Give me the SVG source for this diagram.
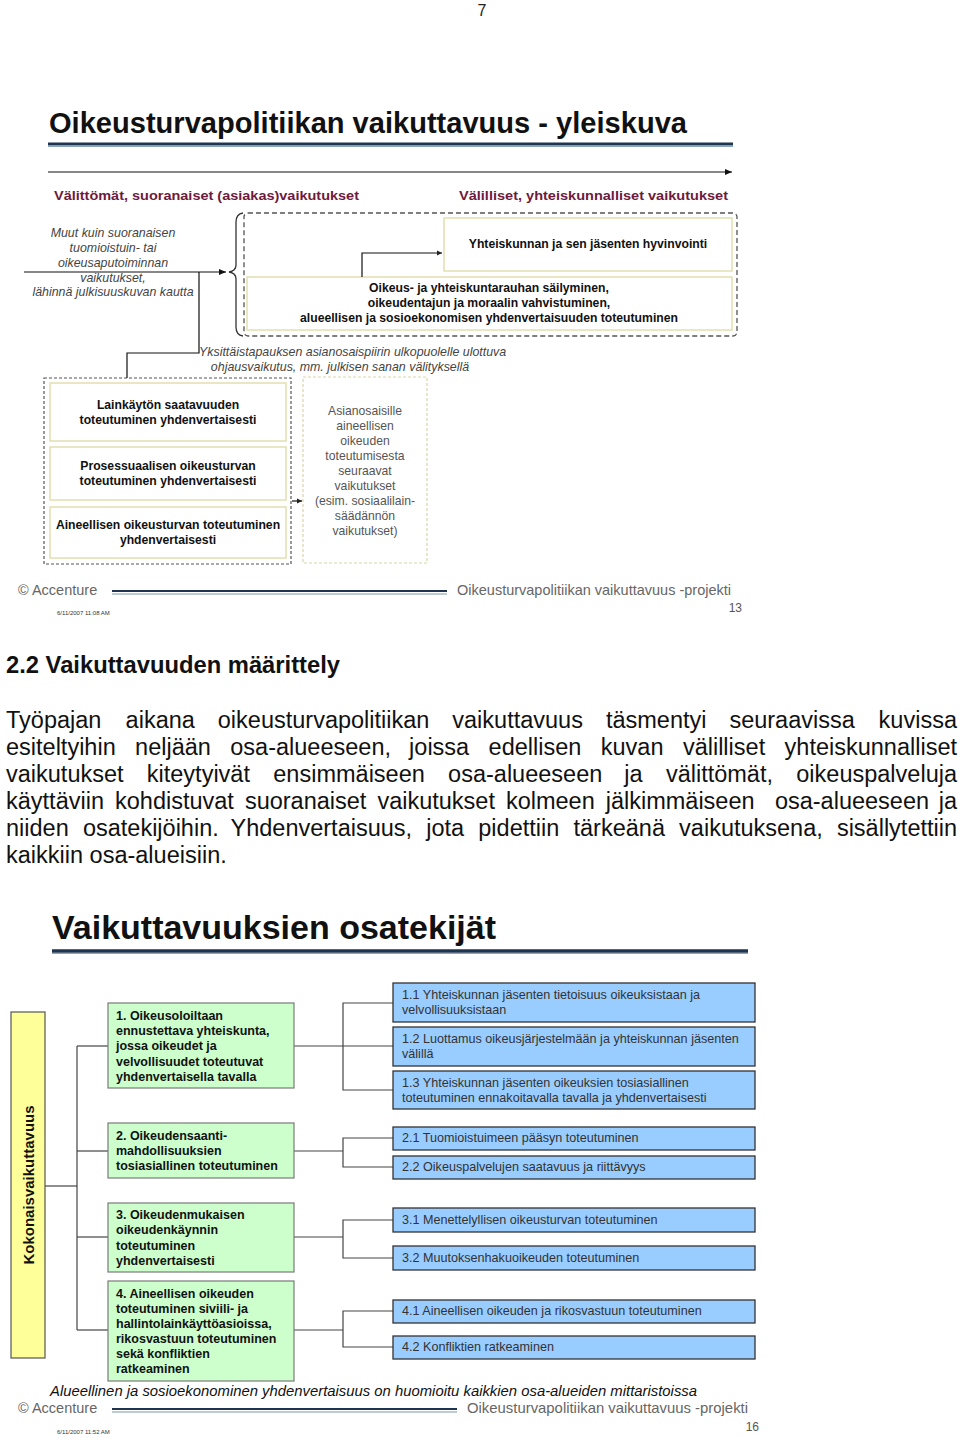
<svg xmlns="http://www.w3.org/2000/svg" width="960" height="1438" viewBox="0 0 960 1438">
<defs>
<marker id="ah" markerWidth="8" markerHeight="8" refX="7" refY="4" orient="auto" markerUnits="userSpaceOnUse"><path d="M0,1 L7,4 L0,7 Z" fill="#111"/></marker>
<marker id="ahs" markerWidth="6" markerHeight="6" refX="5" refY="3" orient="auto" markerUnits="userSpaceOnUse"><path d="M0,0.5 L5,3 L0,5.5 Z" fill="#222"/></marker>
<style>
text{font-family:"Liberation Sans",Arial,sans-serif}
.ybox{fill:#fff;stroke:#e2e0b0;stroke-width:1.5}
.bt{font-size:12.2px;font-weight:bold;fill:#111;text-anchor:middle}
.it{font-size:12.4px;font-style:italic;fill:#444}
.gray{font-size:12.2px;fill:#555;text-anchor:middle}
.mar{font-size:13.5px;font-weight:bold;fill:#6e1a3c}
.foot{font-size:14.5px;fill:#666}
.date{font-size:6px;fill:#333}
.p{font-size:23.5px;fill:#111}
.green{fill:#ccffcc;stroke:#7a7a7a;stroke-width:1.2}
.gt{font-size:12.5px;font-weight:bold;fill:#111}
.blue{fill:#99ccff;stroke:#333;stroke-width:1.3}
.blt{font-size:12.6px;fill:#333}
.ln{fill:none;stroke:#111;stroke-width:1.2}
.ln2{fill:none;stroke:#444;stroke-width:1.2}
</style>
</defs>
<rect width="960" height="1438" fill="#fff"/>
<text x="482" y="16" font-size="16" fill="#222" text-anchor="middle" font-family="Liberation Serif">7</text>

<!-- Slide 1 -->
<g id="slide1-title">
<text x="49" y="133" font-size="29" font-weight="bold" fill="#111" textLength="638" lengthAdjust="spacingAndGlyphs">Oikeusturvapolitiikan vaikuttavuus - yleiskuva</text>
<line x1="48" y1="144" x2="733" y2="144" stroke="#1e3550" stroke-width="3"/>
<line x1="48" y1="146.5" x2="733" y2="146.5" stroke="#8aa4bc" stroke-width="1"/>
</g>
<g id="heading-direct"><text class="mar" x="54" y="200" textLength="305" lengthAdjust="spacingAndGlyphs">Välittömät, suoranaiset (asiakas)vaikutukset</text></g>
<g id="heading-indirect"><text class="mar" x="459" y="200" textLength="269" lengthAdjust="spacingAndGlyphs">Välilliset, yhteiskunnalliset vaikutukset</text></g>

<g id="indirect-group">
<rect x="244" y="213" width="493" height="123" rx="4" fill="none" stroke="#555" stroke-width="1.3" stroke-dasharray="5,3"/>
<path d="M243,213 Q236,214 236,222 L236,265 Q236,271 229,272 Q236,273 236,279 L236,327 Q236,335 243,336" fill="none" stroke="#333" stroke-width="1.3"/>
</g>
<g id="node-welfare">
<rect class="ybox" x="444" y="218" width="288" height="53"/>
<text class="bt" x="588" y="248">Yhteiskunnan ja sen jäsenten hyvinvointi</text>
</g>
<g id="node-peace">
<rect class="ybox" x="247" y="277" width="485" height="53"/>
<text class="bt" x="489" y="292">Oikeus- ja yhteiskuntarauhan säilyminen,</text>
<text class="bt" x="489" y="307">oikeudentajun ja moraalin vahvistuminen,</text>
<text class="bt" x="489" y="322">alueellisen ja sosioekonomisen yhdenvertaisuuden toteutuminen</text>
</g>
<g id="label-other">
<text class="it" x="113" y="237" text-anchor="middle">Muut kuin suoranaisen</text>
<text class="it" x="113" y="252" text-anchor="middle">tuomioistuin- tai</text>
<text class="it" x="113" y="267" text-anchor="middle">oikeusaputoiminnan</text>
<text class="it" x="113" y="282" text-anchor="middle">vaikutukset,</text>
<text class="it" x="113" y="296" text-anchor="middle">lähinnä julkisuuskuvan kautta</text>
</g>
<g id="label-individual">
<text class="it" x="199" y="356">Yksittäistapauksen asianosaispiirin ulkopuolelle ulottuva</text>
<text class="it" x="340" y="371" text-anchor="middle">ohjausvaikutus, mm. julkisen sanan välityksellä</text>
</g>

<g id="direct-group">
<rect x="44" y="378" width="247" height="186" fill="none" stroke="#555" stroke-width="1.2" stroke-dasharray="3,2"/>
</g>
<g id="node-access">
<rect class="ybox" x="50" y="383" width="236" height="58"/>
<text class="bt" x="168" y="409">Lainkäytön saatavuuden</text>
<text class="bt" x="168" y="424">toteutuminen yhdenvertaisesti</text>
</g>
<g id="node-procedural">
<rect class="ybox" x="50" y="447" width="236" height="53"/>
<text class="bt" x="168" y="470">Prosessuaalisen oikeusturvan</text>
<text class="bt" x="168" y="485">toteutuminen yhdenvertaisesti</text>
</g>
<g id="node-material">
<rect class="ybox" x="50" y="507" width="236" height="51"/>
<text class="bt" x="168" y="529">Aineellisen oikeusturvan toteutuminen</text>
<text class="bt" x="168" y="544">yhdenvertaisesti</text>
</g>
<g id="node-consequences">
<rect x="303" y="377" width="124" height="186" fill="#fff" stroke="#d8d6a8" stroke-width="1.2" stroke-dasharray="3,2"/>
<text class="gray" x="365" y="415">Asianosaisille</text>
<text class="gray" x="365" y="430">aineellisen</text>
<text class="gray" x="365" y="445">oikeuden</text>
<text class="gray" x="365" y="460">toteutumisesta</text>
<text class="gray" x="365" y="475">seuraavat</text>
<text class="gray" x="365" y="490">vaikutukset</text>
<text class="gray" x="365" y="505">(esim. sosiaalilain-</text>
<text class="gray" x="365" y="520">säädännön</text>
<text class="gray" x="365" y="535">vaikutukset)</text>
</g>

<g id="connectors-slide1">
<line x1="48" y1="172" x2="732" y2="172" class="ln" marker-end="url(#ah)"/>
<line x1="24" y1="272" x2="226" y2="272" class="ln" marker-end="url(#ah)"/>
<polyline points="199,272 199,353 127,353 127,378" class="ln"/>
<polyline points="362,277 362,253 442,253" class="ln" marker-end="url(#ahs)"/>
<line x1="292" y1="501" x2="302" y2="501" class="ln" marker-end="url(#ahs)"/>
</g>

<g id="footer1">
<text class="foot" x="18" y="595">© Accenture</text>
<line x1="112" y1="591" x2="447" y2="591" stroke="#1e3550" stroke-width="2"/>
<line x1="112" y1="594" x2="447" y2="594" stroke="#7d97ae" stroke-width="1"/>
<text class="foot" x="457" y="595" textLength="274" lengthAdjust="spacingAndGlyphs">Oikeusturvapolitiikan vaikuttavuus -projekti</text>
<text x="742" y="612" font-size="12" fill="#555" text-anchor="end">13</text>
<text class="date" x="57" y="615">6/11/2007 11:08 AM</text>
</g>

<!-- Body text -->
<text x="6" y="673" font-size="23.5" font-weight="bold" fill="#111" textLength="334" lengthAdjust="spacingAndGlyphs">2.2 Vaikuttavuuden määrittely</text>
<g class="para">
<text class="p" y="728"><tspan x="6">Työpajan</tspan><tspan x="125.6">aikana</tspan><tspan x="217.8">oikeusturvapolitiikan</tspan><tspan x="452.3">vaikuttavuus</tspan><tspan x="605.9">täsmentyi</tspan><tspan x="729.4">seuraavissa</tspan><tspan x="878.6">kuvissa</tspan></text>
<text class="p" y="755"><tspan x="6">esiteltyihin</tspan><tspan x="135.1">neljään</tspan><tspan x="230.3">osa-alueeseen,</tspan><tspan x="409.1">joissa</tspan><tspan x="488.6">edellisen</tspan><tspan x="600.8">kuvan</tspan><tspan x="682.9">välilliset</tspan><tspan x="784.6">yhteiskunnalliset</tspan></text>
<text class="p" y="782"><tspan x="6">vaikutukset</tspan><tspan x="146.8">kiteytyivät</tspan><tspan x="273.3">ensimmäiseen</tspan><tspan x="448.1">osa-alueeseen</tspan><tspan x="624.3">ja</tspan><tspan x="665.9">välittömät,</tspan><tspan x="796.3">oikeuspalveluja</tspan></text>
<text class="p" y="809"><tspan x="6">käyttäviin</tspan><tspan x="115">kohdistuvat</tspan><tspan x="244.9">suoranaiset</tspan><tspan x="377.4">vaikutukset</tspan><tspan x="505.9">kolmeen</tspan><tspan x="605.7">jälkimmäiseen</tspan><tspan x="774.9">osa-alueeseen</tspan><tspan x="938.8">ja</tspan></text>
<text class="p" y="836"><tspan x="6">niiden</tspan><tspan x="82.9">osatekijöihin.</tspan><tspan x="230.5">Yhdenvertaisuus,</tspan><tspan x="426.3">jota</tspan><tspan x="478.3">pidettiin</tspan><tspan x="573.5">tärkeänä</tspan><tspan x="679.1">vaikutuksena,</tspan><tspan x="836.9">sisällytettiin</tspan></text>
<text class="p" x="6" y="863">kaikkiin osa-alueisiin.</text>
</g>

<!-- Slide 2 -->
<g id="slide2-title">
<text x="52" y="939" font-size="33" font-weight="bold" fill="#111" textLength="444" lengthAdjust="spacingAndGlyphs">Vaikuttavuuksien osatekijät</text>
<line x1="52" y1="951" x2="748" y2="951" stroke="#1e3550" stroke-width="3.5"/>
<line x1="52" y1="953.5" x2="748" y2="953.5" stroke="#8aa4bc" stroke-width="1"/>
</g>

<g id="connectors-slide2">
<line x1="45" y1="1186" x2="77" y2="1186" class="ln2"/>
<line x1="77" y1="1046" x2="77" y2="1330" class="ln2"/>
<line x1="77" y1="1046" x2="108" y2="1046" class="ln2"/>
<line x1="77" y1="1151" x2="108" y2="1151" class="ln2"/>
<line x1="77" y1="1237" x2="108" y2="1237" class="ln2"/>
<line x1="77" y1="1330" x2="108" y2="1330" class="ln2"/>
<line x1="294" y1="1046" x2="393" y2="1046" class="ln2"/>
<polyline points="393,1003 343,1003 343,1090 393,1090" class="ln2"/>
<line x1="294" y1="1151" x2="343" y2="1151" class="ln2"/>
<polyline points="393,1138 343,1138 343,1167 393,1167" class="ln2"/>
<line x1="294" y1="1237" x2="343" y2="1237" class="ln2"/>
<polyline points="393,1220 343,1220 343,1258 393,1258" class="ln2"/>
<line x1="294" y1="1330" x2="343" y2="1330" class="ln2"/>
<polyline points="393,1311 343,1311 343,1347 393,1347" class="ln2"/>
</g>

<g id="node-total">
<rect x="11" y="1012" width="34" height="346" fill="#ffff99" stroke="#555" stroke-width="1.2"/>
<text x="0" y="0" transform="translate(34,1185) rotate(-90)" font-size="15" font-weight="bold" fill="#111" text-anchor="middle">Kokonaisvaikuttavuus</text>
</g>

<g id="node-g1">
<rect class="green" x="108" y="1003" width="186" height="85"/>
<text class="gt" x="116" y="1020">1. Oikeusoloiltaan</text>
<text class="gt" x="116" y="1035">ennustettava yhteiskunta,</text>
<text class="gt" x="116" y="1050">jossa oikeudet ja</text>
<text class="gt" x="116" y="1066">velvollisuudet toteutuvat</text>
<text class="gt" x="116" y="1081">yhdenvertaisella tavalla</text>
</g>
<g id="node-g2">
<rect class="green" x="108" y="1123" width="186" height="55"/>
<text class="gt" x="116" y="1140">2. Oikeudensaanti-</text>
<text class="gt" x="116" y="1155">mahdollisuuksien</text>
<text class="gt" x="116" y="1170">tosiasiallinen toteutuminen</text>
</g>
<g id="node-g3">
<rect class="green" x="108" y="1203" width="186" height="69"/>
<text class="gt" x="116" y="1219">3. Oikeudenmukaisen</text>
<text class="gt" x="116" y="1234">oikeudenkäynnin</text>
<text class="gt" x="116" y="1250">toteutuminen</text>
<text class="gt" x="116" y="1265">yhdenvertaisesti</text>
</g>
<g id="node-g4">
<rect class="green" x="108" y="1281" width="186" height="100"/>
<text class="gt" x="116" y="1298">4. Aineellisen oikeuden</text>
<text class="gt" x="116" y="1313">toteutuminen siviili- ja</text>
<text class="gt" x="116" y="1328">hallintolainkäyttöasioissa,</text>
<text class="gt" x="116" y="1343">rikosvastuun toteutuminen</text>
<text class="gt" x="116" y="1358">sekä konfliktien</text>
<text class="gt" x="116" y="1373">ratkeaminen</text>
</g>

<g id="node-b11"><rect class="blue" x="393" y="983" width="362" height="39"/>
<text class="blt" x="402" y="999">1.1 Yhteiskunnan jäsenten tietoisuus oikeuksistaan ja</text>
<text class="blt" x="402" y="1014">velvollisuuksistaan</text></g>
<g id="node-b12"><rect class="blue" x="393" y="1027" width="362" height="39"/>
<text class="blt" x="402" y="1043">1.2 Luottamus oikeusjärjestelmään ja yhteiskunnan jäsenten</text>
<text class="blt" x="402" y="1058">välillä</text></g>
<g id="node-b13"><rect class="blue" x="393" y="1071" width="362" height="38"/>
<text class="blt" x="402" y="1087">1.3 Yhteiskunnan jäsenten oikeuksien tosiasiallinen</text>
<text class="blt" x="402" y="1102">toteutuminen ennakoitavalla tavalla ja yhdenvertaisesti</text></g>
<g id="node-b21"><rect class="blue" x="393" y="1127" width="362" height="23"/>
<text class="blt" x="402" y="1142">2.1 Tuomioistuimeen pääsyn toteutuminen</text></g>
<g id="node-b22"><rect class="blue" x="393" y="1156" width="362" height="23"/>
<text class="blt" x="402" y="1171">2.2 Oikeuspalvelujen saatavuus ja riittävyys</text></g>
<g id="node-b31"><rect class="blue" x="393" y="1208" width="362" height="24"/>
<text class="blt" x="402" y="1224">3.1 Menettelyllisen oikeusturvan toteutuminen</text></g>
<g id="node-b32"><rect class="blue" x="393" y="1246" width="362" height="24"/>
<text class="blt" x="402" y="1262">3.2 Muutoksenhakuoikeuden toteutuminen</text></g>
<g id="node-b41"><rect class="blue" x="393" y="1300" width="362" height="23"/>
<text class="blt" x="402" y="1315">4.1 Aineellisen oikeuden ja rikosvastuun toteutuminen</text></g>
<g id="node-b42"><rect class="blue" x="393" y="1336" width="362" height="23"/>
<text class="blt" x="402" y="1351">4.2 Konfliktien ratkeaminen</text></g>

<g id="footer2">
<text x="50" y="1396" font-size="14" font-style="italic" fill="#111" textLength="647" lengthAdjust="spacingAndGlyphs">Alueellinen ja sosioekonominen yhdenvertaisuus on huomioitu kaikkien osa-alueiden mittaristoissa</text>
<text class="foot" x="18" y="1413">© Accenture</text>
<line x1="112" y1="1409" x2="457" y2="1409" stroke="#1e3550" stroke-width="2"/>
<line x1="112" y1="1412" x2="457" y2="1412" stroke="#7d97ae" stroke-width="1"/>
<text class="foot" x="467" y="1413" textLength="281" lengthAdjust="spacingAndGlyphs">Oikeusturvapolitiikan vaikuttavuus -projekti</text>
<text x="759" y="1431" font-size="12" fill="#555" text-anchor="end">16</text>
<text class="date" x="57" y="1434">6/11/2007 11:52 AM</text>
</g>
</svg>
